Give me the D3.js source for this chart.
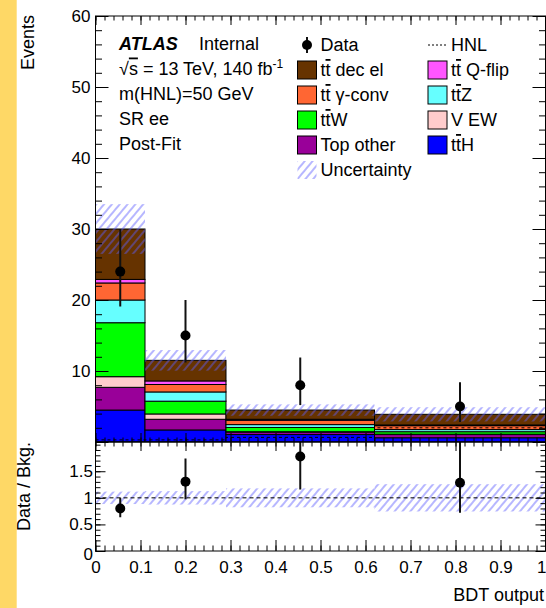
<!DOCTYPE html>
<html>
<head>
<meta charset="utf-8">
<script src="https://cdn.jsdelivr.net/npm/d3@7"></script>
<style>
  html, body { margin: 0; padding: 0; background: #fff; }
  svg { display: block; font-family: "Liberation Sans", Arial, Helvetica, sans-serif; }
</style>
</head>
<body>
<div id="chart"></div>
<script>
// ---- data ----
const binEdges = [0, 0.11, 0.29, 0.62, 1.0];

// background components (events per bin), bottom of the stack first
const ttH        = [4.5, 1.7, 1.05, 0.6];
const topOther   = [3.2, 1.5, 0.35, 0.45];
const vEW        = [1.5, 0.75, 0.05, 0.05];
const ttW        = [7.6, 1.8, 0.6, 0.35];
const ttZ        = [3.2, 1.3, 0.4, 0.3];
const ttGammaConv = [2.4, 1.05, 0.6, 0.55];
const ttQflip    = [0.5, 0.5, 0.15, 0.1];
const ttDecEl    = [7.1, 2.9, 1.3, 1.5];

const bkgUnc = [3.5, 1.45, 0.8, 1.0];      // absolute post-fit uncertainty
const hnlSignal = [0.3, 0.3, 0.65, 2.0];    // dashed signal line

const dataCounts = [24, 15, 8, 5];
const dataErrLo  = [4.9, 3.8, 2.8, 2.2];
const dataErrHi  = [6.0, 5.0, 3.9, 3.4];

const yTicks = [0, 10, 20, 30, 40, 50, 60];
const ratioTicks = [0, 0.5, 1, 1.5];
const xTicks = [0, 0.1, 0.2, 0.3, 0.4, 0.5, 0.6, 0.7, 0.8, 0.9, 1];

// ---- styling ----
const stackOrder = [
  { values: ttH,         color: "#0000ff" },
  { values: topOther,    color: "#990099" },
  { values: vEW,         color: "#ffcccc" },
  { values: ttW,         color: "#00ff00" },
  { values: ttZ,         color: "#66ffff" },
  { values: ttGammaConv, color: "#ff6633" },
  { values: ttQflip,     color: "#ff55ff" },
  { values: ttDecEl,     color: "#663300" }
];

const W = 546, H = 608;
const X0 = 95.5, X1 = 545.5;
const UP_TOP = 16, UP_BOT = 442;
const RT_TOP = 442, RT_BOT = 551;
const FONT = 18, TICK_FONT = 17;

const svg = d3.select("#chart").append("svg")
  .attr("width", W).attr("height", H)
  .attr("viewBox", `0 0 ${W} ${H}`);

// yellow strip on the left
svg.append("rect").attr("x", 0).attr("y", 0).attr("width", 16.7).attr("height", H)
  .attr("fill", "#fed866");

const x = d3.scaleLinear().domain([0, 1]).range([X0, X1]);
const y = d3.scaleLinear().domain([0, 60]).range([UP_BOT, UP_TOP]);
const yr = d3.scaleLinear().domain([0, 2.05]).range([RT_BOT, RT_TOP]);

const defs = svg.append("defs");
const hatch = defs.append("pattern")
  .attr("id", "hatch")
  .attr("patternUnits", "userSpaceOnUse")
  .attr("width", 6).attr("height", 6)
  .attr("patternTransform", "rotate(40)");
hatch.append("line")
  .attr("x1", 1).attr("y1", -1).attr("x2", 1).attr("y2", 7)
  .attr("stroke", "#5c5cff").attr("stroke-width", 0.9);

defs.append("clipPath").attr("id", "clipUp").append("rect")
  .attr("x", X0).attr("y", UP_TOP).attr("width", X1 - X0).attr("height", UP_BOT - UP_TOP);
defs.append("clipPath").attr("id", "clipRt").append("rect")
  .attr("x", X0).attr("y", RT_TOP).attr("width", X1 - X0).attr("height", RT_BOT - RT_TOP);

const bins = dataCounts.map((d, i) => ({
  lo: binEdges[i], hi: binEdges[i + 1], mid: (binEdges[i] + binEdges[i + 1]) / 2
}));
const totals = bins.map((b, i) => d3.sum(stackOrder, s => s.values[i]));

// ---- upper panel: stacked backgrounds ----
const up = svg.append("g").attr("clip-path", "url(#clipUp)");

stackOrder.forEach((s, k) => {
  const base = bins.map((b, i) => d3.sum(stackOrder.slice(0, k), t => t.values[i]));
  up.append("g").selectAll("rect")
    .data(bins)
    .join("rect")
    .attr("x", b => x(b.lo))
    .attr("width", b => x(b.hi) - x(b.lo))
    .attr("y", (b, i) => y(base[i] + s.values[i]))
    .attr("height", (b, i) => y(base[i]) - y(base[i] + s.values[i]))
    .attr("fill", s.color)
    .attr("stroke", "#000")
    .attr("stroke-width", 1);
});

// uncertainty band
up.append("g").selectAll("rect")
  .data(bins)
  .join("rect")
  .attr("x", b => x(b.lo))
  .attr("width", b => x(b.hi) - x(b.lo))
  .attr("y", (b, i) => y(totals[i] + bkgUnc[i]))
  .attr("height", (b, i) => y(totals[i] - bkgUnc[i]) - y(totals[i] + bkgUnc[i]))
  .attr("fill", "url(#hatch)");

// HNL dashed histogram
const hnlPts = [];
bins.forEach((b, i) => { hnlPts.push([b.lo, hnlSignal[i]], [b.hi, hnlSignal[i]]); });
up.append("path")
  .attr("d", d3.line().x(p => x(p[0])).y(p => y(p[1]))(hnlPts))
  .attr("fill", "none").attr("stroke", "#000").attr("stroke-width", 1)
  .attr("stroke-dasharray", "3,3");

// data points
const dataG = up.append("g");
dataG.selectAll("line")
  .data(bins)
  .join("line")
  .attr("x1", b => x(b.mid)).attr("x2", b => x(b.mid))
  .attr("y1", (b, i) => y(dataCounts[i] + dataErrHi[i]))
  .attr("y2", (b, i) => y(dataCounts[i] - dataErrLo[i]))
  .attr("stroke", "#111").attr("stroke-width", 2);
dataG.selectAll("circle")
  .data(bins)
  .join("circle")
  .attr("cx", b => x(b.mid))
  .attr("cy", (b, i) => y(dataCounts[i]))
  .attr("r", 5).attr("fill", "#000");

// ---- ratio panel ----
const rt = svg.append("g").attr("clip-path", "url(#clipRt)");
rt.append("g").selectAll("rect")
  .data(bins)
  .join("rect")
  .attr("x", b => x(b.lo))
  .attr("width", b => x(b.hi) - x(b.lo))
  .attr("y", (b, i) => yr(1 + bkgUnc[i] / totals[i]))
  .attr("height", (b, i) => yr(1 - bkgUnc[i] / totals[i]) - yr(1 + bkgUnc[i] / totals[i]))
  .attr("fill", "url(#hatch)");
rt.append("line")
  .attr("x1", X0).attr("x2", X1).attr("y1", yr(1)).attr("y2", yr(1))
  .attr("stroke", "#000").attr("stroke-width", 1).attr("stroke-dasharray", "4,3");
rt.selectAll("line.err")
  .data(bins)
  .join("line").attr("class", "err")
  .attr("x1", b => x(b.mid)).attr("x2", b => x(b.mid))
  .attr("y1", (b, i) => yr((dataCounts[i] + dataErrHi[i]) / totals[i]))
  .attr("y2", (b, i) => yr((dataCounts[i] - dataErrLo[i]) / totals[i]))
  .attr("stroke", "#111").attr("stroke-width", 2);
rt.selectAll("circle")
  .data(bins)
  .join("circle")
  .attr("cx", b => x(b.mid))
  .attr("cy", (b, i) => yr(dataCounts[i] / totals[i]))
  .attr("r", 5).attr("fill", "#000");

// ---- axes (ROOT style: inward ticks on all four sides) ----
function tidy(sel) {
  sel.attr("font-family", null).attr("font-size", TICK_FONT);
  sel.select(".domain").remove();
  sel.selectAll("line").attr("stroke", "#000");
  sel.selectAll("text").attr("fill", "#000");
}

function addAxis(gen, tx, ty) {
  return svg.append("g").attr("transform", `translate(${tx},${ty})`).call(gen).call(tidy);
}

// upper panel y
addAxis(d3.axisLeft(y).tickValues(yTicks).tickSize(-13).tickPadding(5)
  .tickFormat(d => d === 0 ? "" : d), X0, 0);
addAxis(d3.axisLeft(y).tickValues(d3.range(0, 61, 2)).tickSize(-6.5).tickFormat(""), X0, 0);
addAxis(d3.axisRight(y).tickValues(yTicks).tickSize(-13).tickFormat(""), X1, 0);
addAxis(d3.axisRight(y).tickValues(d3.range(0, 61, 2)).tickSize(-6.5).tickFormat(""), X1, 0);
// upper panel x
addAxis(d3.axisTop(x).tickValues(xTicks).tickSize(-9).tickFormat(""), 0, UP_TOP);
addAxis(d3.axisTop(x).tickValues(d3.range(0, 1.001, 0.02)).tickSize(-4.5).tickFormat(""), 0, UP_TOP);
addAxis(d3.axisBottom(x).tickValues(xTicks).tickSize(-9).tickFormat(""), 0, UP_BOT);
addAxis(d3.axisBottom(x).tickValues(d3.range(0, 1.001, 0.02)).tickSize(-4.5).tickFormat(""), 0, UP_BOT);

// ratio panel y
const ry = addAxis(d3.axisLeft(yr).tickValues(ratioTicks).tickSize(-10).tickPadding(2.5)
  .tickFormat(d => d), X0, 0);
ry.selectAll("text").filter(d => d === 0).attr("transform", "translate(0,3)");
addAxis(d3.axisLeft(yr).tickValues(d3.range(0, 2.01, 0.1)).tickSize(-5).tickFormat(""), X0, 0);
addAxis(d3.axisRight(yr).tickValues(ratioTicks).tickSize(-10).tickFormat(""), X1, 0);
addAxis(d3.axisRight(yr).tickValues(d3.range(0, 2.01, 0.1)).tickSize(-5).tickFormat(""), X1, 0);
// ratio panel x
addAxis(d3.axisTop(x).tickValues(xTicks).tickSize(-9).tickFormat(""), 0, RT_TOP);
addAxis(d3.axisTop(x).tickValues(d3.range(0, 1.001, 0.02)).tickSize(-4.5).tickFormat(""), 0, RT_TOP);
const rx = addAxis(d3.axisBottom(x).tickValues(xTicks).tickSize(-11).tickPadding(10)
  .tickFormat(d => String(d)), 0, RT_BOT);
// last label sits at the canvas edge: keep it inside
rx.selectAll("text").filter(d => d === 1).attr("text-anchor", "end").attr("dx", 0.5);
addAxis(d3.axisBottom(x).tickValues(d3.range(0, 1.001, 0.02)).tickSize(-5.5).tickFormat(""), 0, RT_BOT);

// frames
[[UP_TOP, UP_BOT], [RT_TOP, RT_BOT]].forEach(([t, b]) => {
  svg.append("rect").attr("x", X0).attr("y", t).attr("width", X1 - X0).attr("height", b - t)
    .attr("fill", "none").attr("stroke", "#000").attr("stroke-width", 1);
});

// axis titles
svg.append("text")
  .attr("transform", "translate(34,15) rotate(-90)")
  .attr("text-anchor", "end").attr("font-size", FONT).text("Events");
svg.append("text")
  .attr("transform", "translate(30,442) rotate(-90)")
  .attr("text-anchor", "end").attr("font-size", FONT).text("Data / Bkg.");
svg.append("text")
  .attr("x", 544).attr("y", 601)
  .attr("text-anchor", "end").attr("font-size", FONT).text("BDT output");

// ---- labels block ----
function richText(g, xPos, yPos, parts) {
  const t = g.append("text").attr("x", xPos).attr("y", yPos).attr("font-size", FONT);
  parts.forEach(p => {
    const s = t.append("tspan").text(p.t);
    if (p.over) s.style("text-decoration", "overline");
    if (p.sup) s.attr("font-size", 12).attr("dy", -7);
  });
  return t;
}

const lab = svg.append("g");
lab.append("text").attr("x", 119).attr("y", 50).attr("font-size", FONT)
  .attr("font-weight", "bold").attr("font-style", "italic").text("ATLAS");
lab.append("text").attr("x", 199).attr("y", 50).attr("font-size", FONT).text("Internal");
richText(lab, 119, 74.5, [
  { t: "\u221A" }, { t: "s", over: true }, { t: " = 13 TeV, 140 fb" }, { t: "-1", sup: true }
]);
lab.append("text").attr("x", 119).attr("y", 100).attr("font-size", FONT).text("m(HNL)=50 GeV");
lab.append("text").attr("x", 119).attr("y", 125).attr("font-size", FONT).text("SR ee");
lab.append("text").attr("x", 119).attr("y", 150).attr("font-size", FONT).text("Post-Fit");

// ---- legend ----
const leg = svg.append("g");
const rowY = [45, 70, 95, 120, 145, 170];
const col1 = 297.5, col2 = 428, txtOff = 23;

// Data entry
leg.append("line").attr("x1", col1 + 9.5).attr("x2", col1 + 9.5)
  .attr("y1", rowY[0] - 8).attr("y2", rowY[0] + 8).attr("stroke", "#111").attr("stroke-width", 2);
leg.append("circle").attr("cx", col1 + 9.5).attr("cy", rowY[0]).attr("r", 5).attr("fill", "#000");
richText(leg, col1 + txtOff, rowY[0] + 6, [{ t: "Data" }]);

// HNL entry
leg.append("line").attr("x1", col2).attr("x2", col2 + 20).attr("y1", rowY[0]).attr("y2", rowY[0])
  .attr("stroke", "#000").attr("stroke-width", 1).attr("stroke-dasharray", "2,2");
richText(leg, col2 + txtOff, rowY[0] + 6, [{ t: "HNL" }]);

const legendEntries = [
  { col: col1, row: 1, fill: "#663300", parts: [{ t: "t" }, { t: "t", over: true }, { t: " dec el" }] },
  { col: col1, row: 2, fill: "#ff6633", parts: [{ t: "t" }, { t: "t", over: true }, { t: "\u00a0\u03B3-conv" }] },
  { col: col1, row: 3, fill: "#00ff00", parts: [{ t: "t" }, { t: "t", over: true }, { t: "W" }] },
  { col: col1, row: 4, fill: "#990099", parts: [{ t: "Top other" }] },
  { col: col1, row: 5, fill: "url(#hatch)", parts: [{ t: "Uncertainty" }], noStroke: true },
  { col: col2, row: 1, fill: "#ff55ff", parts: [{ t: "t" }, { t: "t", over: true }, { t: " Q-flip" }] },
  { col: col2, row: 2, fill: "#66ffff", parts: [{ t: "t" }, { t: "t", over: true }, { t: "Z" }] },
  { col: col2, row: 3, fill: "#ffcccc", parts: [{ t: "V EW" }] },
  { col: col2, row: 4, fill: "#0000ff", parts: [{ t: "t" }, { t: "t", over: true }, { t: "H" }] }
];

legendEntries.forEach(e => {
  leg.append("rect")
    .attr("x", e.col).attr("y", rowY[e.row] - 9)
    .attr("width", 19).attr("height", 18)
    .attr("fill", e.fill)
    .attr("stroke", e.noStroke ? "none" : "#000").attr("stroke-width", 1);
  richText(leg, e.col + txtOff, rowY[e.row] + 6, e.parts);
});
</script>
</body>
</html>
